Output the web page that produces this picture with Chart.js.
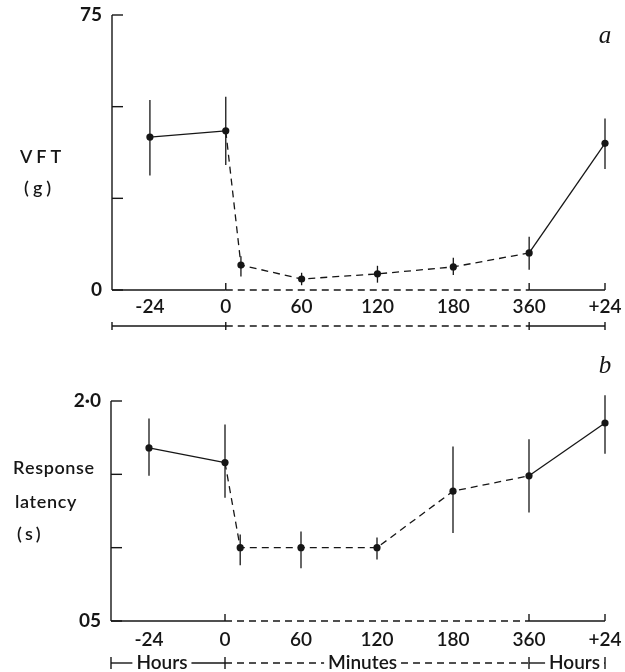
<!DOCTYPE html>
<html>
<head>
<meta charset="utf-8">
<script src="https://cdn.jsdelivr.net/npm/chart.js@4.4.0/dist/chart.umd.min.js"></script>
<style>
  html, body { margin: 0; padding: 0; background: #fff; }
  #wrap { position: relative; width: 625px; height: 672px; }
  canvas { position: absolute; left: 0; }
  #vft { top: 0; }
  #lat { top: 340px; }
</style>
</head>
<body>
<div id="wrap">
  <canvas id="vft" width="625" height="340"></canvas>
  <canvas id="lat" width="625" height="332"></canvas>
</div>
<script>
// x slots on the figure: -24 h, 0, 60..360 min, +24 h (evenly spaced)
var tickSlots = [0, 1, 2, 3, 4, 5, 6];
var tickLabels = ['-24', '0', '60', '120', '180', '360', '+24'];
var pointSlots = [0, 1, 1.2, 2, 3, 4, 5, 6];

// panel a: VFT (g)
var vftMean = [41.7, 43.4, 6.8, 3.0, 4.4, 6.3, 10.1, 40.0];
var vftHigh = [51.8, 52.7, 9.2, 4.7, 6.6, 8.8, 14.5, 46.8];
var vftLow  = [31.2, 34.1, 3.7, 1.3, 2.0, 4.1, 5.5, 33.0];
var vftTicks = [0, 25, 50, 75];

// panel b: response latency (s)
var latMean = [1.68, 1.58, 1.0, 1.0, 1.0, 1.385, 1.49, 1.85];
var latHigh = [1.88, 1.84, 1.09, 1.11, 1.07, 1.69, 1.74, 2.04];
var latLow  = [1.49, 1.34, 0.88, 0.86, 0.92, 1.10, 1.24, 1.64];
var latTicks = [0.5, 1.0, 1.5, 2.0];

var INK = '#161616';
var DASH = [7, 5];
var FONT = 'Lato, "DejaVu Sans", sans-serif';

function seg(ctx, x1, y1, x2, y2, dash) {
    ctx.setLineDash(dash || []);
    ctx.beginPath();
    ctx.moveTo(x1, y1);
    ctx.lineTo(x2, y2);
    ctx.stroke();
    ctx.setLineDash([]);
}

function spacedText(ctx, text, x, y, spacing) {
    for (var i = 0; i < text.length; i++) {
        ctx.fillText(text[i], x, y);
        x += ctx.measureText(text[i]).width + spacing;
    }
}

// axis, baselines, bracket row, error bars and labels
function makeDecor(cfg) {
    return {
        id: 'decor',
        afterDraw: function(chart) {
            var ctx = chart.ctx, xs = chart.scales.x, ys = chart.scales.y, area = chart.chartArea;
            var px = function(v) { return xs.getPixelForValue(v); };
            ctx.save();
            ctx.strokeStyle = INK;
            ctx.fillStyle = INK;
            ctx.lineWidth = 1.4;

            // y axis with inward ticks
            seg(ctx, area.left, area.top, area.left, area.bottom);
            cfg.yTicks.forEach(function(v) {
                var y = ys.getPixelForValue(v);
                seg(ctx, area.left, y, area.left + 11, y);
            });

            // baseline: solid / dashed / solid
            var b = area.bottom;
            seg(ctx, area.left, b, px(1), b);
            seg(ctx, px(1), b, px(5), b, DASH);
            seg(ctx, px(5), b, px(6), b);
            [1, 5, 6].forEach(function(s) { seg(ctx, px(s), b, px(s), b - 7); });

            // bracket row under the tick labels
            var ry = cfg.rowY;
            var parts = [[-0.5, 1, null], [1, 5, DASH], [5, 6, null]];
            ctx.font = '600 19px ' + FONT;
            ctx.textAlign = 'center';
            ctx.textBaseline = 'middle';
            parts.forEach(function(p, k) {
                var x1 = p[0] === -0.5 ? area.left : px(p[0]);
                var x2 = px(p[1]);
                var lab = cfg.rowLabels ? cfg.rowLabels[k] : null;
                if (lab) {
                    var cx = px(lab[1]);
                    var half = ctx.measureText(lab[0]).width / 2 + 4;
                    seg(ctx, x1, ry, cx - half, ry, p[2]);
                    seg(ctx, cx + half, ry, x2, ry, p[2]);
                    ctx.fillText(lab[0], cx, ry);
                } else {
                    seg(ctx, x1, ry, x2, ry, p[2]);
                }
            });
            [area.left, px(1), px(5), px(6)].forEach(function(x) {
                seg(ctx, x, ry - cfg.rowTick, x, ry + cfg.rowTick);
            });

            // error bars
            ctx.lineWidth = 1.3;
            pointSlots.forEach(function(s, i) {
                seg(ctx, px(s), ys.getPixelForValue(cfg.high[i]), px(s), ys.getPixelForValue(cfg.low[i]));
            });

            // y title
            ctx.textAlign = 'left';
            ctx.textBaseline = 'alphabetic';
            ctx.font = '600 18px ' + FONT;
            cfg.title.forEach(function(t) {
                spacedText(ctx, t[0], t[1], t[2], t[3]);
            });

            // panel letter
            ctx.font = 'italic 25px "Liberation Serif", "DejaVu Serif", serif';
            ctx.textAlign = 'center';
            ctx.fillText(cfg.letter, 605, cfg.letterY);
            ctx.restore();
        }
    };
}

function makePanel(id, cfg) {
    new Chart(document.getElementById(id), {
        type: 'line',
        data: {
            datasets: [{
                data: pointSlots.map(function(s, i) { return { x: s, y: cfg.mean[i] }; }),
                borderColor: INK,
                borderWidth: 1.3,
                pointRadius: 3.6,
                pointBackgroundColor: INK,
                pointBorderWidth: 0,
                tension: 0,
                clip: false,
                segment: {
                    borderDash: function(c) {
                        return (c.p0DataIndex === 0 || c.p0DataIndex === 6) ? [] : DASH;
                    }
                }
            }]
        },
        options: {
            responsive: false,
            animation: false,
            layout: { padding: { top: cfg.padTop, right: 20, left: 0, bottom: 0 } },
            plugins: { legend: { display: false }, tooltip: { enabled: false } },
            scales: {
                x: {
                    type: 'linear', min: -0.5, max: 6,
                    border: { display: false }, grid: { display: false },
                    afterBuildTicks: function(s) { s.ticks = tickSlots.map(function(v) { return { value: v }; }); },
                    afterFit: function(s) { s.height = cfg.xAxisHeight; },
                    ticks: {
                        padding: cfg.xPad, color: INK, autoSkip: false, maxRotation: 0,
                        font: { family: FONT, size: 19, weight: '600' },
                        callback: function(v) { return tickLabels[tickSlots.indexOf(v)]; }
                    }
                },
                y: {
                    min: cfg.yTicks[0], max: cfg.yTicks[cfg.yTicks.length - 1],
                    border: { display: false }, grid: { display: false },
                    afterBuildTicks: function(s) { s.ticks = cfg.yTicks.map(function(v) { return { value: v }; }); },
                    afterFit: function(s) { s.width = cfg.axisWidth; },
                    ticks: {
                        padding: 2, color: INK, autoSkip: false,
                        font: { family: FONT, size: 19, weight: 'bold' },
                        callback: function(v, i) { return cfg.yLabels[i]; }
                    }
                }
            }
        },
        plugins: [makeDecor(cfg)]
    });
}

makePanel('vft', {
    mean: vftMean, high: vftHigh, low: vftLow,
    yTicks: vftTicks, yLabels: ['0', '', '', '75'],
    axisWidth: 112, padTop: 15, xAxisHeight: 50, xPad: -3,
    rowY: 326, rowTick: 4, rowLabels: null,
    title: [['VFT', 20, 163, 4], ['(g)', 24, 194, 4]],
    letter: 'a', letterY: 43
});

makePanel('lat', {
    mean: latMean, high: latHigh, low: latLow,
    yTicks: latTicks, yLabels: ['05', '', '', '2·0'],
    axisWidth: 111, padTop: 61, xAxisHeight: 51, xPad: -1,
    rowY: 323, rowTick: 6,
    rowLabels: [['Hours', 0.17], ['Minutes', 2.81], ['Hours', 5.6]],
    title: [['Response', 13, 134, 0.6], ['latency', 15, 168, 0.6], ['(s)', 17, 200, 3]],
    letter: 'b', letterY: 33
});
</script>
</body>
</html>
